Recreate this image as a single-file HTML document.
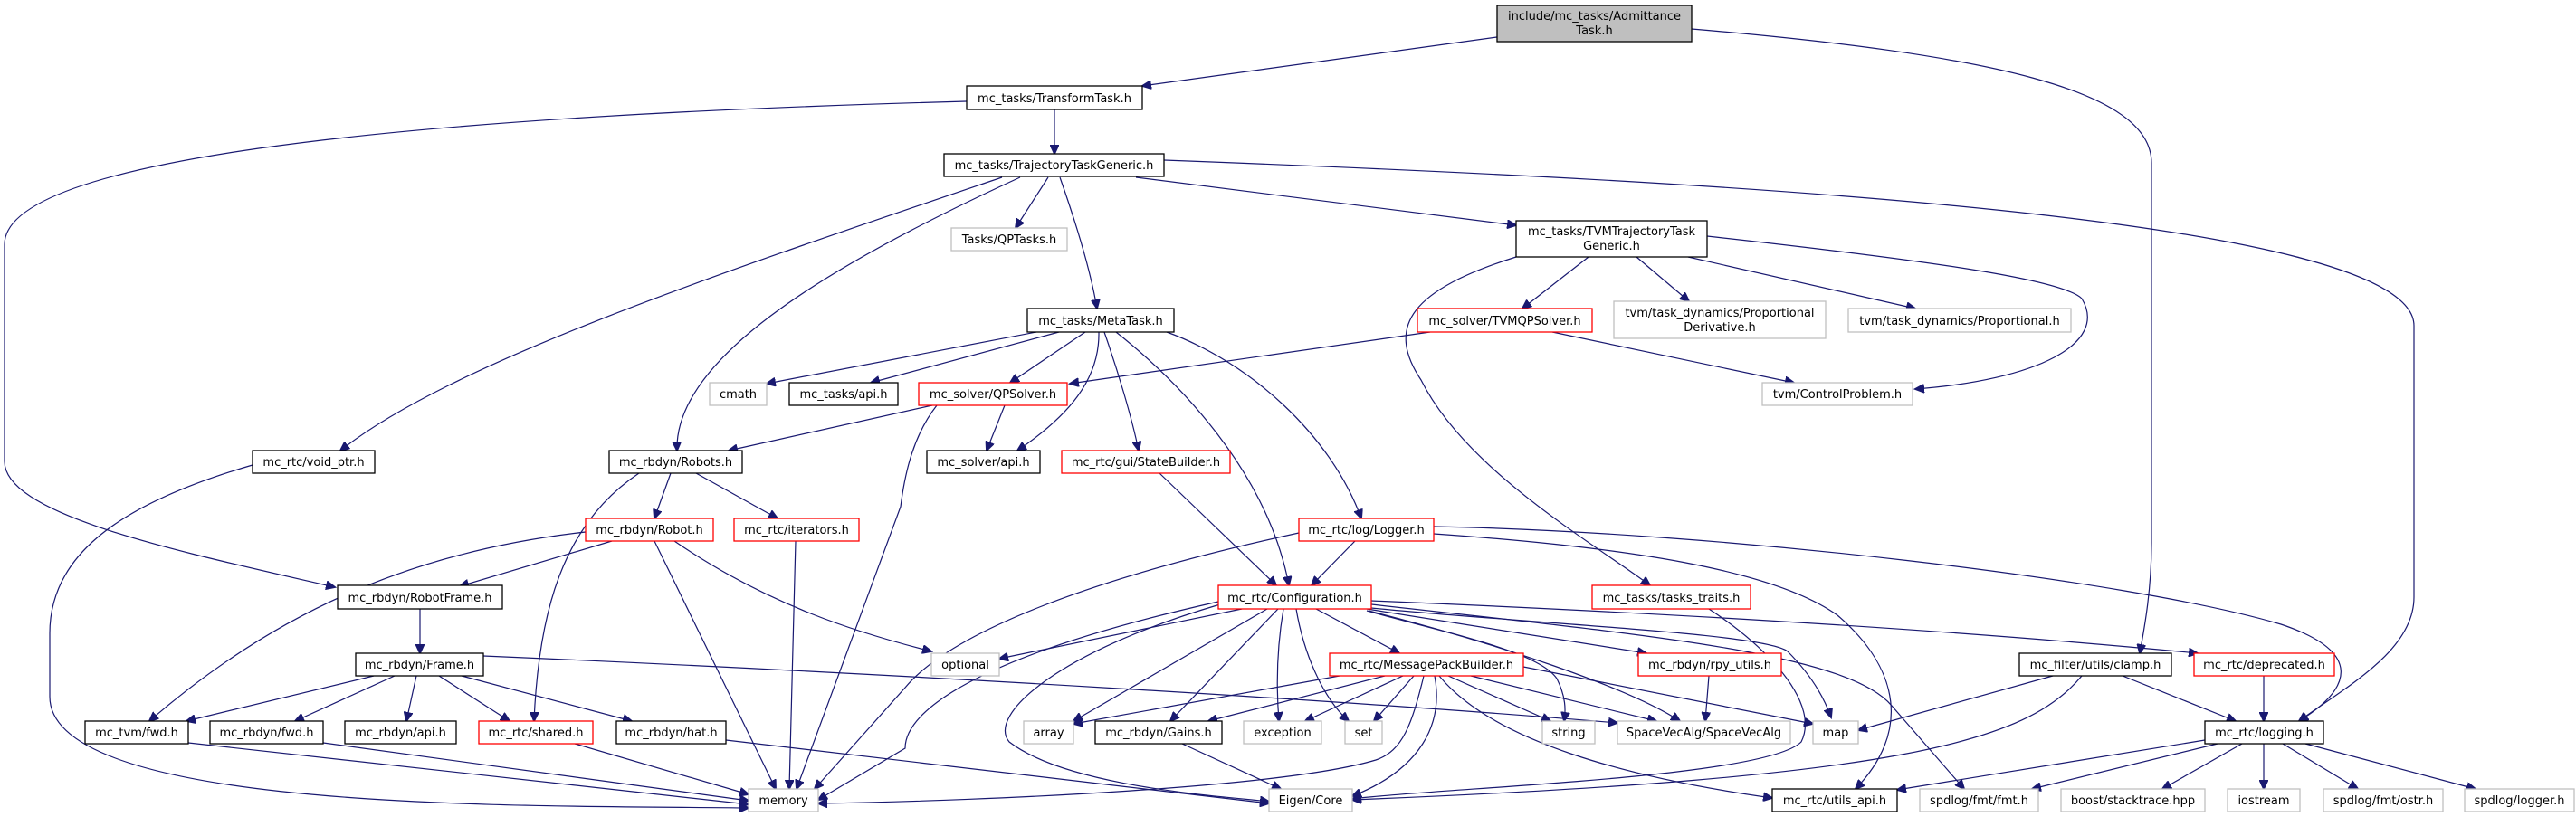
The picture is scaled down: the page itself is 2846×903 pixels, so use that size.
<!DOCTYPE html>
<html><head><meta charset="utf-8"><style>
html,body{margin:0;padding:0;background:#fff;}
svg{display:block;}
text{font-family:"DejaVu Sans","Liberation Sans",sans-serif;font-size:13px;fill:#000;}
.b{fill:#fff;stroke:#000;stroke-width:1.3;}
.g{fill:#fff;stroke:#bfbfbf;stroke-width:1.3;}
.r{fill:#fff;stroke:#ff0000;stroke-width:1.3;}
.e{fill:none;stroke:#191970;stroke-width:1.2;marker-end:url(#a);}
</style></head><body>
<svg width="2846" height="903" viewBox="0 0 2846 903" xmlns="http://www.w3.org/2000/svg">
<defs><marker id="a" markerWidth="12" markerHeight="10" refX="10" refY="5" orient="auto" markerUnits="userSpaceOnUse"><path d="M0,0 L11,5 L0,10 z" fill="#191970" stroke="#191970"/></marker></defs>
<g>
<path class="e" d="M1654,41 L1262,95"/>
<path class="e" d="M1869,32 C2200,60 2377,100 2377,180 L2377,600 C2377,650 2370,690 2364,722"/>
<path class="e" d="M1165,121 L1165,170"/>
<path class="e" d="M1068,112 C400,130 5,180 5,270 L5,510 C5,570 200,610 370,649"/>
<path class="e" d="M1107,196 C800,300 500,400 376,498"/>
<path class="e" d="M1127,196 C900,300 745,400 748,498"/>
<path class="e" d="M1158,196 L1122,252"/>
<path class="e" d="M1171,196 C1190,250 1205,300 1212,341"/>
<path class="e" d="M1255,196 L1675,249"/>
<path class="e" d="M1286,177 C1900,200 2667,240 2667,360 L2667,660 C2667,720 2590,760 2540,797"/>
<path class="e" d="M1755,284 L1682,341"/>
<path class="e" d="M1808,284 L1866,333"/>
<path class="e" d="M1865,284 L2116,341"/>
<path class="e" d="M1886,261 C2150,290 2280,310 2300,330 C2330,380 2250,420 2116,430"/>
<path class="e" d="M1675,284 C1560,320 1530,360 1570,420 C1620,520 1760,600 1823,647"/>
<path class="e" d="M1580,367 L1182,424"/>
<path class="e" d="M1715,367 L1982,423"/>
<path class="e" d="M1145,367 L847,424"/>
<path class="e" d="M1170,367 L962,423"/>
<path class="e" d="M1199,367 L1116,423"/>
<path class="e" d="M1214,367 C1215,420 1180,460 1124,498"/>
<path class="e" d="M1220,367 C1235,410 1250,460 1258,498"/>
<path class="e" d="M1233,367 C1300,420 1400,520 1424,647"/>
<path class="e" d="M1289,367 C1380,400 1470,480 1504,573"/>
<path class="e" d="M1110,448 L1090,498"/>
<path class="e" d="M1030,448 L805,498"/>
<path class="e" d="M1035,448 C1010,480 1000,520 995,560 L880,872"/>
<path class="e" d="M741,523 L723,573"/>
<path class="e" d="M769,523 L859,573"/>
<path class="e" d="M706,523 C620,580 595,680 590,797"/>
<path class="e" d="M676,598 L508,648"/>
<path class="e" d="M647,588 C450,610 300,680 165,797"/>
<path class="e" d="M723,598 L857,872"/>
<path class="e" d="M745,598 C850,670 950,700 1029,720"/>
<path class="e" d="M879,598 L872,872"/>
<path class="e" d="M464,673 L464,722"/>
<path class="e" d="M413,747 L206,797"/>
<path class="e" d="M436,747 L326,797"/>
<path class="e" d="M460,747 L449,797"/>
<path class="e" d="M485,747 L563,797"/>
<path class="e" d="M510,747 L698,797"/>
<path class="e" d="M534,725 C1000,745 1500,775 1787,799"/>
<path class="e" d="M208,821 L827,889"/>
<path class="e" d="M357,821 L827,885"/>
<path class="e" d="M635,822 L827,878"/>
<path class="e" d="M802,818 L1402,888"/>
<path class="e" d="M279,514 C120,560 55,620 55,700 L55,770 C55,900 600,890 827,893"/>
<path class="e" d="M1306,822 L1415,872"/>
<path class="e" d="M1372,673 L1104,728"/>
<path class="e" d="M1400,673 L1186,797"/>
<path class="e" d="M1412,673 L1293,797"/>
<path class="e" d="M1418,673 C1410,720 1410,760 1413,797"/>
<path class="e" d="M1432,673 C1440,720 1460,770 1490,797"/>
<path class="e" d="M1454,673 L1546,722"/>
<path class="e" d="M1510,673 L1819,722"/>
<path class="e" d="M1510,675 C1600,700 1700,720 1720,750 C1730,770 1730,785 1728,797"/>
<path class="e" d="M1512,675 C1650,710 1800,760 1856,797"/>
<path class="e" d="M1515,672 C1700,690 1950,700 1975,720 C2000,745 2015,770 2023,793"/>
<path class="e" d="M1515,664 C1900,680 2200,700 2428,722"/>
<path class="e" d="M1515,668 C1800,700 2040,720 2090,780 L2170,872"/>
<path class="e" d="M1348,668 C1170,720 1090,790 1115,820 C1180,870 1350,880 1402,886"/>
<path class="e" d="M1346,665 C1100,720 1000,780 1000,827 L904,884"/>
<path class="e" d="M1497,598 L1449,647"/>
<path class="e" d="M1435,589 C1200,640 1050,700 1000,760 L900,872"/>
<path class="e" d="M1584,582 C1900,588 2350,640 2520,690 C2610,720 2600,760 2540,797"/>
<path class="e" d="M1584,590 C1800,605 1960,630 2030,680 C2100,740 2110,810 2050,872"/>
<path class="e" d="M1281,523 L1410,647"/>
<path class="e" d="M1480,747 L1186,800"/>
<path class="e" d="M1530,747 L1335,797"/>
<path class="e" d="M1550,747 L1442,797"/>
<path class="e" d="M1562,747 L1518,797"/>
<path class="e" d="M1600,747 L1713,797"/>
<path class="e" d="M1625,747 L1830,797"/>
<path class="e" d="M1683,737 L2003,800"/>
<path class="e" d="M1573,747 C1560,800 1550,830 1520,840 C1420,870 1100,885 904,888"/>
<path class="e" d="M1585,747 C1595,800 1570,850 1494,880"/>
<path class="e" d="M1590,747 C1650,820 1800,860 1958,882"/>
<path class="e" d="M1888,747 L1884,797"/>
<path class="e" d="M1888,673 C1960,720 2010,780 1990,820 C1950,860 1600,870 1494,883"/>
<path class="e" d="M2268,747 L2053,807"/>
<path class="e" d="M2345,747 L2470,797"/>
<path class="e" d="M2300,747 C2240,820 2100,860 1494,884"/>
<path class="e" d="M2501,747 L2501,797"/>
<path class="e" d="M2436,818 L2096,873"/>
<path class="e" d="M2450,822 L2245,872"/>
<path class="e" d="M2477,822 L2389,872"/>
<path class="e" d="M2501,822 L2501,872"/>
<path class="e" d="M2522,822 L2605,872"/>
<path class="e" d="M2547,822 L2735,872"/>
</g>
<g>
<rect x="1654" y="6" width="215" height="40" fill="#bfbfbf" stroke="#000" stroke-width="1.3"/>
<text x="1761.5" y="22" text-anchor="middle">include/mc_tasks/Admittance</text>
<text x="1761.5" y="38" text-anchor="middle">Task.h</text>
<rect class="b" x="1068" y="95" width="194" height="26"/><text x="1165" y="113" text-anchor="middle">mc_tasks/TransformTask.h</text>
<rect class="b" x="1043" y="170" width="243" height="25"/><text x="1164.5" y="187" text-anchor="middle">mc_tasks/TrajectoryTaskGeneric.h</text>
<rect class="g" x="1051" y="252" width="128" height="25"/><text x="1115" y="269" text-anchor="middle">Tasks/QPTasks.h</text>
<rect class="b" x="1675" y="244" width="211" height="40"/><text x="1780.5" y="260" text-anchor="middle">mc_tasks/TVMTrajectoryTask</text><text x="1780.5" y="276" text-anchor="middle">Generic.h</text>
<rect class="b" x="1135" y="341" width="162" height="26"/><text x="1216" y="359" text-anchor="middle">mc_tasks/MetaTask.h</text>
<rect class="r" x="1566" y="341" width="193" height="26"/><text x="1662.5" y="359" text-anchor="middle">mc_solver/TVMQPSolver.h</text>
<rect class="g" x="1783" y="333" width="234" height="41"/><text x="1900" y="350" text-anchor="middle">tvm/task_dynamics/Proportional</text><text x="1900" y="366" text-anchor="middle">Derivative.h</text>
<rect class="g" x="2042" y="341" width="246" height="26"/><text x="2165" y="359" text-anchor="middle">tvm/task_dynamics/Proportional.h</text>
<rect class="g" x="784" y="423" width="63" height="25"/><text x="815.5" y="440" text-anchor="middle">cmath</text>
<rect class="b" x="872" y="423" width="120" height="25"/><text x="932" y="440" text-anchor="middle">mc_tasks/api.h</text>
<rect class="r" x="1015" y="423" width="164" height="25"/><text x="1097" y="440" text-anchor="middle">mc_solver/QPSolver.h</text>
<rect class="g" x="1947" y="423" width="166" height="25"/><text x="2030" y="440" text-anchor="middle">tvm/ControlProblem.h</text>
<rect class="b" x="279" y="498" width="135" height="25"/><text x="346.5" y="515" text-anchor="middle">mc_rtc/void_ptr.h</text>
<rect class="b" x="673" y="498" width="147" height="25"/><text x="746.5" y="515" text-anchor="middle">mc_rbdyn/Robots.h</text>
<rect class="b" x="1024" y="498" width="125" height="25"/><text x="1086.5" y="515" text-anchor="middle">mc_solver/api.h</text>
<rect class="r" x="1173" y="498" width="186" height="25"/><text x="1266" y="515" text-anchor="middle">mc_rtc/gui/StateBuilder.h</text>
<rect class="r" x="647" y="573" width="141" height="25"/><text x="717.5" y="590" text-anchor="middle">mc_rbdyn/Robot.h</text>
<rect class="r" x="811" y="573" width="138" height="25"/><text x="880" y="590" text-anchor="middle">mc_rtc/iterators.h</text>
<rect class="r" x="1435" y="573" width="149" height="25"/><text x="1509.5" y="590" text-anchor="middle">mc_rtc/log/Logger.h</text>
<rect class="b" x="373" y="647" width="182" height="26"/><text x="464" y="665" text-anchor="middle">mc_rbdyn/RobotFrame.h</text>
<rect class="r" x="1346" y="647" width="169" height="26"/><text x="1430.5" y="665" text-anchor="middle">mc_rtc/Configuration.h</text>
<rect class="r" x="1759" y="647" width="175" height="26"/><text x="1846.5" y="665" text-anchor="middle">mc_tasks/tasks_traits.h</text>
<rect class="b" x="393" y="722" width="141" height="25"/><text x="463.5" y="739" text-anchor="middle">mc_rbdyn/Frame.h</text>
<rect class="g" x="1029" y="722" width="75" height="25"/><text x="1066.5" y="739" text-anchor="middle">optional</text>
<rect class="r" x="1469" y="722" width="214" height="25"/><text x="1576" y="739" text-anchor="middle">mc_rtc/MessagePackBuilder.h</text>
<rect class="r" x="1810" y="722" width="158" height="25"/><text x="1889" y="739" text-anchor="middle">mc_rbdyn/rpy_utils.h</text>
<rect class="b" x="2231" y="722" width="168" height="25" stroke-width="1.8"/><text x="2315" y="739" text-anchor="middle">mc_filter/utils/clamp.h</text>
<rect class="r" x="2424" y="722" width="155" height="25"/><text x="2501.5" y="739" text-anchor="middle">mc_rtc/deprecated.h</text>
<rect class="b" x="94" y="797" width="114" height="25"/><text x="151" y="814" text-anchor="middle">mc_tvm/fwd.h</text>
<rect class="b" x="232" y="797" width="125" height="25"/><text x="294.5" y="814" text-anchor="middle">mc_rbdyn/fwd.h</text>
<rect class="b" x="381" y="797" width="123" height="25"/><text x="442.5" y="814" text-anchor="middle">mc_rbdyn/api.h</text>
<rect class="r" x="529" y="797" width="126" height="25"/><text x="592" y="814" text-anchor="middle">mc_rtc/shared.h</text>
<rect class="b" x="681" y="797" width="121" height="25"/><text x="741.5" y="814" text-anchor="middle">mc_rbdyn/hat.h</text>
<rect class="g" x="1131" y="797" width="55" height="25"/><text x="1158.5" y="814" text-anchor="middle">array</text>
<rect class="b" x="1210" y="797" width="140" height="25"/><text x="1280" y="814" text-anchor="middle">mc_rbdyn/Gains.h</text>
<rect class="g" x="1374" y="797" width="86" height="25"/><text x="1417" y="814" text-anchor="middle">exception</text>
<rect class="g" x="1486" y="797" width="41" height="25"/><text x="1506.5" y="814" text-anchor="middle">set</text>
<rect class="g" x="1704" y="797" width="58" height="25"/><text x="1733" y="814" text-anchor="middle">string</text>
<rect class="g" x="1787" y="797" width="191" height="25"/><text x="1882.5" y="814" text-anchor="middle">SpaceVecAlg/SpaceVecAlg</text>
<rect class="g" x="2003" y="797" width="50" height="25"/><text x="2028" y="814" text-anchor="middle">map</text>
<rect class="b" x="2436" y="797" width="131" height="25"/><text x="2501.5" y="814" text-anchor="middle">mc_rtc/logging.h</text>
<rect class="g" x="827" y="872" width="77" height="25"/><text x="865.5" y="889" text-anchor="middle">memory</text>
<rect class="g" x="1402" y="872" width="92" height="25"/><text x="1448" y="889" text-anchor="middle">Eigen/Core</text>
<rect class="b" x="1958" y="872" width="138" height="25"/><text x="2027" y="889" text-anchor="middle">mc_rtc/utils_api.h</text>
<rect class="g" x="2121" y="872" width="131" height="25"/><text x="2186.5" y="889" text-anchor="middle">spdlog/fmt/fmt.h</text>
<rect class="g" x="2277" y="872" width="159" height="25"/><text x="2356.5" y="889" text-anchor="middle">boost/stacktrace.hpp</text>
<rect class="g" x="2461" y="872" width="80" height="25"/><text x="2501" y="889" text-anchor="middle">iostream</text>
<rect class="g" x="2567" y="872" width="132" height="25"/><text x="2633" y="889" text-anchor="middle">spdlog/fmt/ostr.h</text>
<rect class="g" x="2723" y="872" width="121" height="25"/><text x="2783.5" y="889" text-anchor="middle">spdlog/logger.h</text>
</g>
</svg>
</body></html>
